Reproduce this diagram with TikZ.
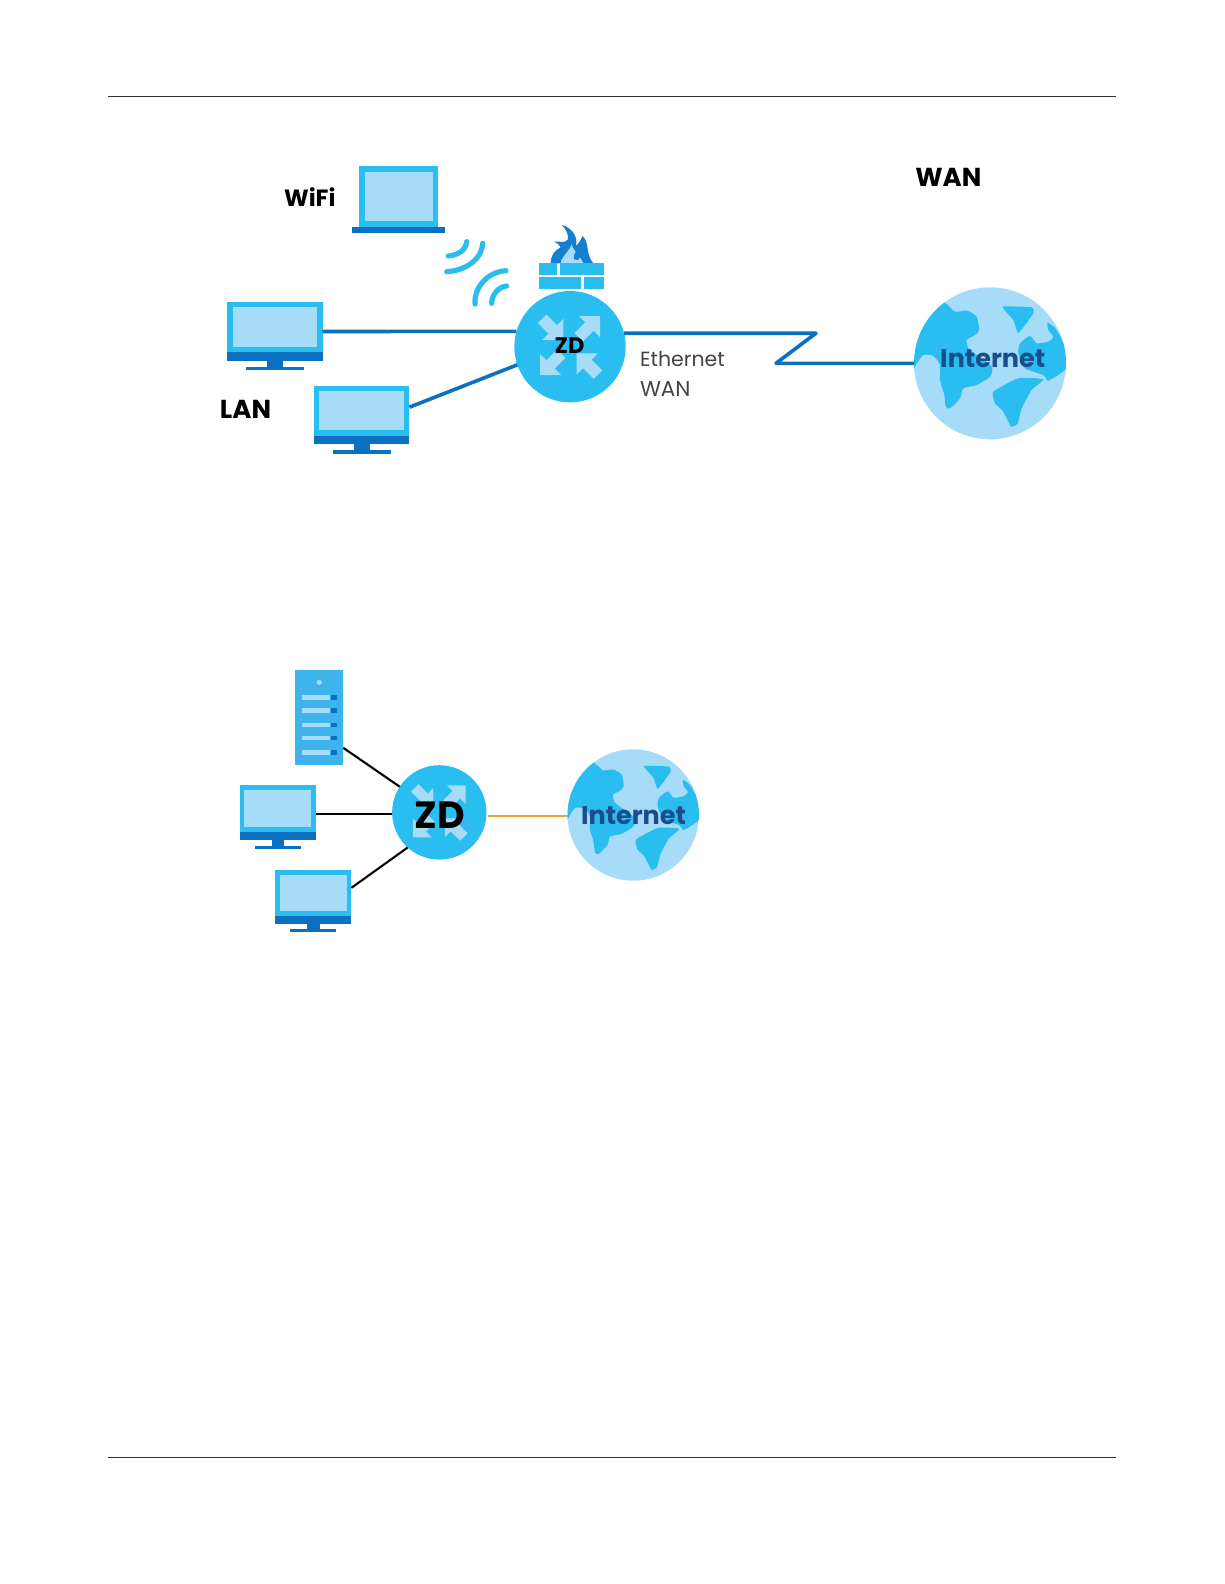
\documentclass[tikz,border=0pt]{standalone}
\usepackage{fontspec}
\setmainfont{Poppins}
\usetikzlibrary{calc}
\definecolor{zmid}{HTML}{29BDF0}
\definecolor{zlight}{HTML}{A6DCF8}
\definecolor{zdark}{HTML}{0B70C0}
\definecolor{zflame}{HTML}{1580D0}
\definecolor{znet}{HTML}{1B4C8C}
\definecolor{zgrey}{HTML}{444444}
\definecolor{zorange}{HTML}{E8A33A}
\definecolor{zserver}{HTML}{3DB4EC}
\tikzset{
  devbody/.style={rectangle,fill=zmid,inner sep=0pt,outer sep=0pt,anchor=north west},
  routerdisc/.style={circle,fill=zmid,inner sep=0pt,outer sep=0pt},
  globedisc/.style={circle,fill=zlight,inner sep=0pt,outer sep=0pt},
  lanlink/.style={draw=zdark,line width=3.6pt},
  blacklink/.style={draw=black,line width=2.1pt},
  orangelink/.style={draw=zorange,line width=2.4pt},
  wavearc/.style={draw=zmid,line width=5.2pt,line cap=round},
  pagerule/.style={draw=black!80,line width=0.9pt},
  boldlabel/.style={inner sep=0pt,text=black,font=\bfseries\fontsize{#1}{#1}\selectfont},
  thinlabel/.style={inner sep=0pt,text=zgrey,font=\fontsize{#1}{#1}\selectfont},
  netlabel/.style={inner sep=0pt,text=znet,font=\bfseries\fontsize{#1}{#1}\selectfont},
}
% name, left, top, xscale, yscale
\newcommand{\devmonitor}[5]{%
  \node[devbody,minimum width={#4*95.4pt},minimum height={#5*58.4pt}] (#1) at (#2,#3) {};
  \begin{scope}[shift={(#2,#3)},xscale=#4,yscale=#5]
    \fill[zlight] (5.4,5) rectangle (90,44.4);
    \fill[zdark] (0,49.7) rectangle (95.4,58.4);
    \fill[zdark] (40,58.4) rectangle (56,64.4);
    \fill[zdark] (18.7,64.4) rectangle (76.7,67.7);
  \end{scope}}
% four arrows of a router, centre x, y, scale
\newcommand{\devarrow}[3]{\fill[zlight,shift={(#1,#2)},rotate=#3] (0,0)--(-15,15)--(-15,6)--(-30,6)--(-30,-6)--(-15,-6)--(-15,-15)--cycle;}
\newcommand{\devarrows}[3]{%
  \begin{scope}[shift={(#1,#2)},scale=#3]
    \devarrow{-6.7}{-6.7}{-45}
    \devarrow{30}{-30.7}{45}
    \devarrow{-30}{28.3}{225}
    \devarrow{6.7}{6.7}{135}
  \end{scope}}
% name, cx, cy, r
\newcommand{\devglobe}[4]{%
  \node[globedisc,minimum size={2*#4*1pt}] (#1) at (#2,#3) {};
  \begin{scope}[shift={(#2,#3)},scale=#4/76]
  \begin{scope}[scale=1/3,shift={(-255,-250)}]
    \clip (255,250) circle [radius=228];
    \fill[zmid] plot[smooth cycle,tension=0.4] coordinates {(118,68)(150,95)(185,92)(215,110)(222,150)(210,165)(185,180)(190,205)(205,218)(260,260)(255,290)(215,315)(175,325)(165,355)(135,385)(122,380)(118,345)(105,300)(105,255)(85,228)(55,225)(35,250)(25,268)(0,268)(0,150)(60,60)};
    \fill[zmid] plot[smooth cycle,tension=0.2] coordinates {(292,80)(380,82)(385,100)(340,160)(325,120)};
    \fill[zmid] plot[smooth cycle,tension=0.35] coordinates {(428,128)(455,150)(495,230)(480,270)(430,302)(415,285)(360,265)(340,220)(345,190)(375,168)(395,190)(430,185)(445,170)(430,150)};
    \fill[zmid] plot[smooth cycle,tension=0.3] coordinates {(265,335)(340,295)(415,298)(380,330)(350,385)(338,430)(318,440)(295,395)(270,370)};
  \end{scope}
  \end{scope}}
\begin{document}
\begin{tikzpicture}[x=1pt,y=-1pt]
\useasboundingbox (0,0) rectangle (1224,1584);
\fill[white] (0,0) rectangle (1224,1584);
% page rules
\coordinate (ruleTopL) at (108,96);
\coordinate (ruleTopR) at (1116,96);
\coordinate (ruleBotL) at (108,1457);
\coordinate (ruleBotR) at (1116,1457);
\draw[pagerule] (ruleTopL) -- (ruleTopR);
\draw[pagerule] (ruleBotL) -- (ruleBotR);

% ---------- upper diagram ----------
% laptop
\node[devbody,minimum width=78.7pt,minimum height=61.3pt] (laptop) at (359.3,166) {};
\fill[zlight] (365.3,172) rectangle (432.7,220.7);
\fill[zdark] (351.7,227.3) rectangle (445.3,233);
\node[boldlabel=23.5] (wifi) at (309.8,197) {WiFi};
% wireless waves
\begin{scope}[shift={(200,140)},scale=1/3]
  \draw[wavearc] (745,348) .. controls (775,345) and (798,330) .. (800,305);
  \draw[wavearc] (740,395) .. controls (795,392) and (845,360) .. (848,310);
  \draw[wavearc] (825,492) .. controls (822,440) and (865,395) .. (918,392);
  \draw[wavearc] (875,490) .. controls (875,465) and (895,440) .. (920,438);
\end{scope}
% firewall
\begin{scope}[shift={(530,220)},scale=1/3]
  \fill[zflame] (62,130) .. controls (62,105) and (75,90) .. (92,82)
     .. controls (88,74) and (80,68) .. (72,65)
     .. controls (85,62) and (105,72) .. (114,58)
     .. controls (116,40) and (105,25) .. (95,15)
     .. controls (125,22) and (145,50) .. (138,78)
     .. controls (145,72) and (152,60) .. (158,48)
     .. controls (180,70) and (165,100) .. (190,130) -- cycle;
  \fill[zlight] (92,130) .. controls (95,105) and (120,95) .. (125,72)
     .. controls (130,95) and (150,105) .. (160,130) -- cycle;
  \fill[zflame] (133,118) .. controls (126,98) and (145,95) .. (150,72)
     .. controls (168,90) and (160,110) .. (143,120) -- cycle;
  \fill[zmid] (28,130) rectangle (82,165);
  \fill[zmid] (90,130) rectangle (222,165);
  \fill[zmid] (28,172) rectangle (153,208);
  \fill[zmid] (162,172) rectangle (222,208);
\end{scope}
% LAN monitors
\devmonitor{pcA}{227.3}{302.3}{1}{1}
\devmonitor{pcB}{314}{386}{1}{1}
\node[boldlabel=26] (lan) at (245.5,409.3) {LAN};
% router
\node[routerdisc,minimum size=111.4pt] (router) at (570,346.7) {};
\devarrows{570}{346.7}{1}
\node[boldlabel=22.5] (zdA) at (569.5,346) {ZD};
% globe
\devglobe{globeA}{990}{363.3}{76}
\node[netlabel=25.5] (netA) at (992.7,359) {Internet};
% labels
\node[boldlabel=26] (wan) at (948.3,177) {WAN};
\node[thinlabel=20.5] (eth) at (682.5,359.5) {Ethernet};
\node[thinlabel=21.5] (wanB) at (665.3,388.7) {WAN};
% links
\coordinate (zigA) at (816,333.2);
\coordinate (zigB) at (776,363.3);
\draw[lanlink] (pcA.east) -- (router.164.7);
\draw[lanlink] ($(pcB.east)+(0,-8)$) -- (router.199.5);
\draw[lanlink,line join=round] (router.14) -- (zigA) -- (zigB) -- (globeA.west);

% ---------- lower diagram ----------
\node[devbody,fill=zserver,minimum width=48.3pt,minimum height=94.7pt] (server) at (295,670) {};
\fill[zlight] (319.3,682.3) circle [radius=2.6];
\foreach \rowy in {697.3,710.7,725,738,752.7}{
  \fill[zlight] (302.3,\rowy-2.3) rectangle (330,\rowy+2.3);
  \fill[zdark] (330.7,\rowy-2.3) rectangle (337.3,\rowy+2.3);
}
\devmonitor{pcC}{239.7}{785}{0.797}{0.95}
\devmonitor{pcD}{275.3}{870}{0.797}{0.92}
\node[routerdisc,minimum size=94.4pt] (routerB) at (439.3,812.4) {};
\devarrows{439.3}{812.4}{0.88}
\node[boldlabel=38] (zdB) at (439.5,815) {ZD};
\devglobe{globeB}{633.2}{815}{65.7}
\node[netlabel=25.5] (netB) at (633.5,816) {Internet};
\coordinate (orangeS) at (487.7,815.7);
\coordinate (pcCout) at ($(pcC.east)+(0,1.5)$);
\draw[blacklink] ($(server.east)+(0,30.5)$) -- (routerB.147.4);
\draw[blacklink] (pcCout) -- (pcCout -| routerB.west);
\draw[blacklink] ($(pcD.east)+(0,-9)$) -- (routerB.228);
\draw[orangelink] (orangeS) -- (orangeS -| globeB.west);
\end{tikzpicture}
\end{document}
